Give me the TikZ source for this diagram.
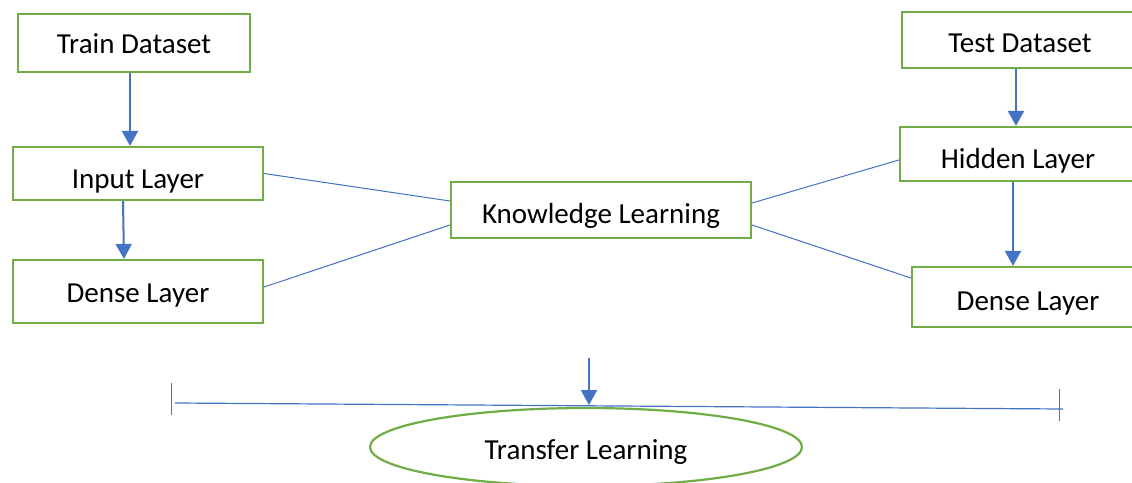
\documentclass[tikz,border=0pt]{standalone}
\usepackage{fontspec}
\setmainfont{Carlito}
\usetikzlibrary{arrows.meta,shapes.geometric}
\definecolor{boxgreen}{HTML}{70AD47}
\definecolor{linkblue}{HTML}{4472C4}
\tikzset{
  stagebox/.style={draw=boxgreen, line width=2.2pt, fill=white, inner sep=0pt,
    font=\fontsize{29pt}{34pt}\selectfont, text=black, text depth=0pt},
  flow/.style={draw=linkblue, line width=2pt, -{Triangle[length=15pt,width=16pt]}},
  link/.style={draw=linkblue, line width=1pt},
}
\begin{document}
\begin{tikzpicture}[x=1pt,y=-1pt]
\useasboundingbox (0,0) rectangle (1132,482);
\clip (0,0) rectangle (1132,482);
\fill[white] (0,0) rectangle (1132,482);

% left column
\node[stagebox, minimum width=232pt, minimum height=58pt, text height=20pt] (train) at (134,43) {Train Dataset};
\node[stagebox, minimum width=250pt, minimum height=53pt, text height=29pt] (inL) at (138,173.5) {Input Layer};
\node[stagebox, minimum width=250pt, minimum height=63pt, text height=22pt] (denseL) at (138,291.5) {Dense Layer};

% right column
\node[stagebox, minimum width=236pt, minimum height=56pt, text height=24pt] (test) at (1020,40) {Test Dataset};
\node[stagebox, minimum width=236pt, minimum height=54pt, text height=29pt] (hidden) at (1018,154) {Hidden Layer};
\node[stagebox, minimum width=232pt, minimum height=60pt, text height=27pt] (denseR) at (1028,297) {Dense Layer};

% centre
\node[stagebox, minimum width=300pt, minimum height=56pt, text height=26pt] (kl) at (601,210) {Knowledge Learning};

% result
\node[stagebox, ellipse, minimum width=432pt, minimum height=78pt, text height=24pt] (tl) at (586,447) {Transfer Learning};

% vertical flow arrows
\draw[flow] ([xshift=-4pt]train.south) -- ([xshift=-8pt]inL.north);
\draw[flow] ([xshift=-15pt]inL.south) -- ([xshift=-14pt]denseL.north);
\draw[flow] ([xshift=-4pt]test.south) -- ([xshift=-2pt]hidden.north);
\draw[flow] ([xshift=-5pt]hidden.south) -- ([xshift=-15pt]denseR.north);

% links into the knowledge box
\draw[link] (inL.east) -- ([yshift=9pt]kl.west);
\draw[link] ([yshift=4.5pt]denseL.east) -- ([yshift=-15pt]kl.west);
\draw[link] ([yshift=7pt]kl.east) -- ([yshift=-6pt]hidden.west);
\draw[link] ([yshift=-15pt]kl.east) -- ([yshift=19pt]denseR.west);

% dimension-style bar with the downward arrow
\coordinate (barL) at (175,403);
\coordinate (barR) at (1063,409);
\coordinate (tickLa) at (171,383);
\coordinate (tickLb) at (171,415);
\coordinate (tickRa) at (1059,389);
\coordinate (tickRb) at (1059,421);
\coordinate (dropA) at (589,358);
\coordinate (dropB) at (589,405);
\draw[link, line width=1.2pt] (barL) -- (barR);
\draw[link] (tickLa) -- (tickLb);
\draw[link] (tickRa) -- (tickRb);
\draw[flow] (dropA) -- (dropB);
\end{tikzpicture}
\end{document}
